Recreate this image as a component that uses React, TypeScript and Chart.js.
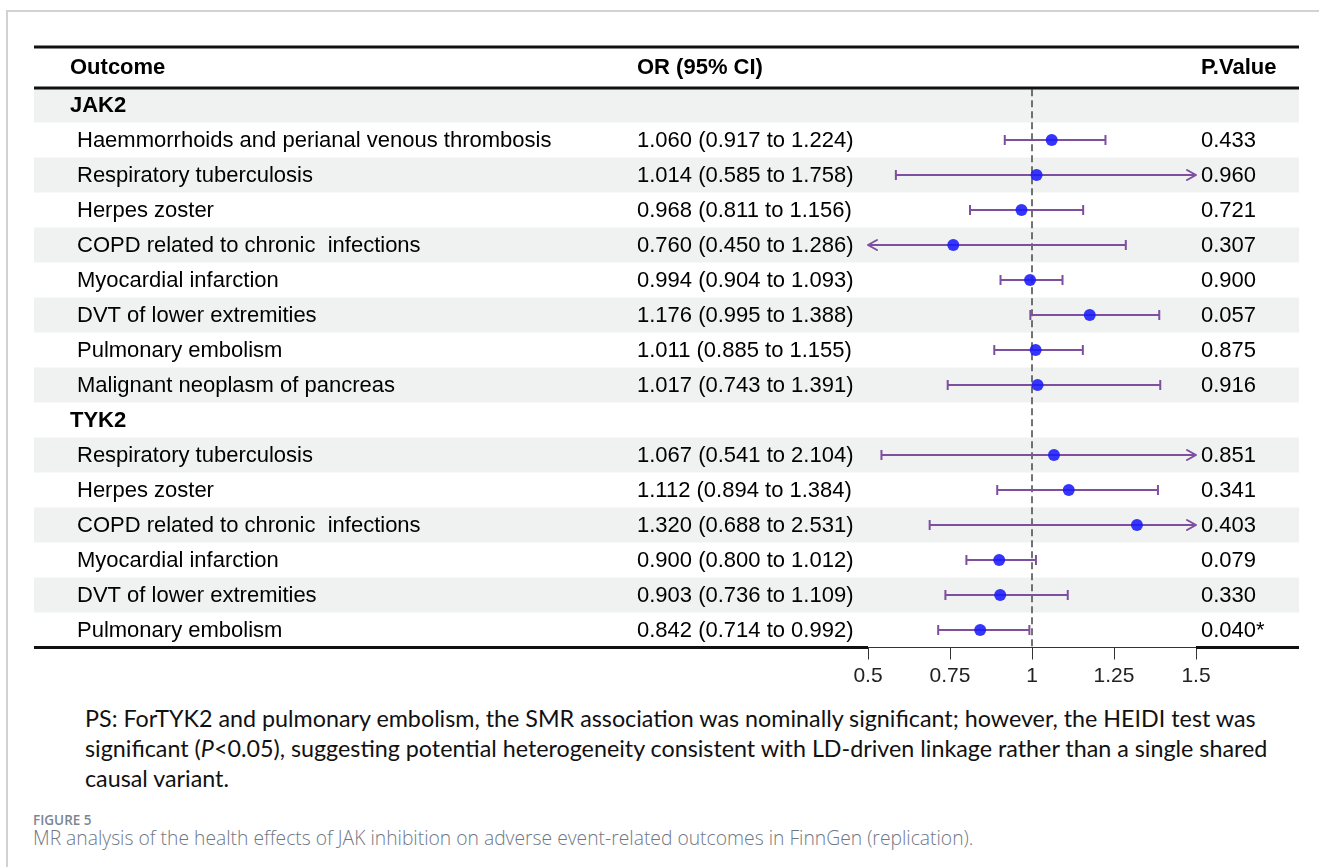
import React, { useEffect, useRef } from "react";
import { Chart, registerables } from "chart.js";

Chart.register(...registerables);

// ---------- data ----------
const headers = ["Outcome", "OR (95% CI)", "P.Value"];
const rowLabels = [
  "JAK2",
  "Haemmorrhoids and perianal venous thrombosis",
  "Respiratory tuberculosis",
  "Herpes zoster",
  "COPD related to chronic  infections",
  "Myocardial infarction",
  "DVT of lower extremities",
  "Pulmonary embolism",
  "Malignant neoplasm of pancreas",
  "TYK2",
  "Respiratory tuberculosis",
  "Herpes zoster",
  "COPD related to chronic  infections",
  "Myocardial infarction",
  "DVT of lower extremities",
  "Pulmonary embolism",
];
const groupRows = ["JAK2", "TYK2"];
const orValues = [null, 1.06, 1.014, 0.968, 0.76, 0.994, 1.176, 1.011, 1.017, null, 1.067, 1.112, 1.32, 0.9, 0.903, 0.842];
const ciLower = [null, 0.917, 0.585, 0.811, 0.45, 0.904, 0.995, 0.885, 0.743, null, 0.541, 0.894, 0.688, 0.8, 0.736, 0.714];
const ciUpper = [null, 1.224, 1.758, 1.156, 1.286, 1.093, 1.388, 1.155, 1.391, null, 2.104, 1.384, 2.531, 1.012, 1.109, 0.992];
const pValues = ["", "0.433", "0.960", "0.721", "0.307", "0.900", "0.057", "0.875", "0.916", "", "0.851", "0.341", "0.403", "0.079", "0.330", "0.040*"];
const xTicks = [0.5, 0.75, 1, 1.25, 1.5];
const xTickLabels = ["0.5", "0.75", "1", "1.25", "1.5"];
const nullLine = 1;
const axisMin = 0.5;
const axisMax = 1.5;

// ---------- style ----------
const FONT = '"Liberation Sans", Arial, sans-serif';
const PURPLE = "#7f4f9f";
const BLUE = "rgba(25,25,250,0.88)";
const BAND = "#f0f1f1";
const TABLE_L = 34;
const TABLE_R = 1299;
const COL_OUT = 70;
const COL_OUT_INDENT = 77;
const COL_OR = 637;
const COL_P = 1201;
const W = 1319;
const H = 700;

const fmt = (v: number) => v.toFixed(3);

const tablePlugin = {
  id: "forestTable",
  beforeDraw(chart: any) {
    const { ctx, scales } = chart;
    const y = scales.y;
    ctx.save();
    ctx.fillStyle = BAND;
    rowLabels.forEach((_, i) => {
      if (i % 2 === 0) {
        const t = y.getPixelForValue(i - 0.5);
        const b = y.getPixelForValue(i + 0.5);
        ctx.fillRect(TABLE_L, t, TABLE_R - TABLE_L, b - t);
      }
    });
    ctx.restore();
  },
  afterDatasetsDraw(chart: any) {
    const { ctx, scales } = chart;
    const x = scales.x;
    const y = scales.y;
    ctx.save();
    ctx.strokeStyle = PURPLE;
    ctx.lineWidth = 2;
    ctx.lineCap = "round";
    ctx.lineJoin = "round";
    rowLabels.forEach((_, i) => {
      const lo = ciLower[i];
      const hi = ciUpper[i];
      if (lo === null || hi === null) return;
      const yp = y.getPixelForValue(i);
      if (hi > axisMax) {
        const xp = x.getPixelForValue(axisMax);
        ctx.beginPath();
        ctx.moveTo(xp - 9, yp - 5);
        ctx.lineTo(xp, yp);
        ctx.lineTo(xp - 9, yp + 5);
        ctx.stroke();
      }
      if (lo < axisMin) {
        const xp = x.getPixelForValue(axisMin);
        ctx.beginPath();
        ctx.moveTo(xp + 9, yp - 5);
        ctx.lineTo(xp, yp);
        ctx.lineTo(xp + 9, yp + 5);
        ctx.stroke();
      }
    });
    ctx.restore();
  },
  afterDraw(chart: any) {
    const { ctx, scales, chartArea } = chart;
    const y = scales.y;
    ctx.save();
    ctx.textBaseline = "middle";
    ctx.fillStyle = "#000";
    // header
    ctx.font = `bold 22px ${FONT}`;
    const headY = 68;
    ctx.fillText(headers[0], COL_OUT, headY);
    ctx.fillText(headers[1], COL_OR, headY);
    ctx.fillText(headers[2], COL_P, headY);
    // rows
    rowLabels.forEach((label, i) => {
      const yp = y.getPixelForValue(i) + 1;
      if (groupRows.includes(label) && orValues[i] === null) {
        ctx.font = `bold 22px ${FONT}`;
        ctx.fillText(label, COL_OUT, yp);
        return;
      }
      ctx.font = `22px ${FONT}`;
      ctx.fillText(label, COL_OUT_INDENT, yp);
      const o = orValues[i] as number;
      const lo = ciLower[i] as number;
      const hi = ciUpper[i] as number;
      ctx.fillText(`${fmt(o)} (${fmt(lo)} to ${fmt(hi)})`, COL_OR, yp);
      ctx.fillText(pValues[i], COL_P, yp);
    });
    // rules
    ctx.strokeStyle = "#111";
    ctx.lineWidth = 3;
    ctx.beginPath();
    ctx.moveTo(TABLE_L, 47);
    ctx.lineTo(TABLE_R, 47);
    ctx.moveTo(TABLE_L, 88);
    ctx.lineTo(TABLE_R, 88);
    const yb = chartArea.bottom;
    ctx.moveTo(TABLE_L, yb);
    ctx.lineTo(chartArea.left, yb);
    ctx.moveTo(chartArea.right, yb);
    ctx.lineTo(TABLE_R, yb);
    ctx.stroke();
    ctx.restore();
  },
};

export default function App() {
  const canvasRef = useRef<HTMLCanvasElement | null>(null);

  useEffect(() => {
    if (!canvasRef.current) return;
    const pointData: any[] = [];
    const capData: any[] = [];
    const ciData: any[] = [];
    rowLabels.forEach((_, i) => {
      const o = orValues[i];
      const lo = ciLower[i];
      const hi = ciUpper[i];
      if (o === null || lo === null || hi === null) return;
      pointData.push({ x: o, y: i });
      if (lo >= axisMin) capData.push({ x: lo, y: i });
      if (hi <= axisMax) capData.push({ x: hi, y: i });
      ciData.push({ x: Math.max(lo, axisMin), y: i });
      ciData.push({ x: Math.min(hi, axisMax), y: i });
      ciData.push({ x: null, y: null });
    });

    const chart = new Chart(canvasRef.current, {
      type: "scatter",
      data: {
        datasets: [
          {
            label: "OR",
            data: pointData,
            pointRadius: 6,
            pointHoverRadius: 6,
            backgroundColor: BLUE,
            borderWidth: 0,
          },
          {
            label: "caps",
            data: capData,
            pointStyle: "line",
            rotation: 90,
            pointRadius: 5,
            pointHoverRadius: 5,
            borderColor: PURPLE,
            borderWidth: 2,
          },
          {
            label: "CI",
            type: "line",
            data: ciData,
            showLine: true,
            spanGaps: false,
            pointRadius: 0,
            borderColor: PURPLE,
            borderWidth: 2,
          } as any,
          {
            label: "null",
            type: "line",
            data: [
              { x: nullLine, y: -0.45 },
              { x: nullLine, y: 15.5 },
            ],
            showLine: true,
            pointRadius: 0,
            borderColor: "#444",
            borderWidth: 1.5,
            borderDash: [7, 4],
          } as any,
        ],
      },
      options: {
        responsive: false,
        maintainAspectRatio: false,
        animation: false,
        events: [],
        layout: { padding: { left: 868, right: W - 1196, top: 87.5, bottom: 12.5 } },
        plugins: { legend: { display: false }, tooltip: { enabled: false } },
        scales: {
          x: {
            type: "linear",
            min: axisMin,
            max: axisMax,
            position: "bottom",
            afterBuildTicks: (s: any) => {
              s.ticks = xTicks.map((v) => ({ value: v }));
            },
            afterFit: (s: any) => {
              s.height = 40;
            },
            grid: { display: true, drawOnChartArea: false, drawTicks: true, tickLength: 12, color: "#333", lineWidth: 1 },
            border: { display: true, color: "#333", width: 1 },
            ticks: {
              callback: (_v: any, i: number) => xTickLabels[i],
              font: { family: FONT, size: 21 },
              color: "#222",
              padding: 4,
              maxRotation: 0,
              autoSkip: false,
            },
          },
          y: { type: "linear", reverse: true, min: -0.5, max: 15.5, display: false },
        },
      },
      plugins: [tablePlugin],
    } as any);
    return () => chart.destroy();
  }, []);

  return (
    <div style={{ position: "absolute", left: 0, top: 0, width: W, height: 867, background: "#fff", overflow: "hidden" }}>
      <div
        style={{
          position: "absolute",
          left: 6,
          top: 10,
          width: 1340,
          height: 900,
          borderTop: "2px solid #d2d2d2",
          borderLeft: "2px solid #d2d2d2",
        }}
      />
      <canvas ref={canvasRef} width={W} height={H} style={{ position: "absolute", left: 0, top: 0, width: W, height: H }} />
      <div
        style={{
          position: "absolute",
          left: 85,
          top: 703,
          fontFamily: "Lato, sans-serif",
          fontSize: 23.3,
          lineHeight: "30px",
          color: "#111",
          whiteSpace: "nowrap",
        }}
      >
        <div>PS: ForTYK2 and pulmonary embolism, the SMR association was nominally significant; however, the HEIDI test was</div>
        <div>
          significant (<i>P</i>&lt;0.05), suggesting potential heterogeneity consistent with LD-driven linkage rather than a single shared
        </div>
        <div>causal variant.</div>
      </div>
      <div
        style={{
          position: "absolute",
          left: 33,
          top: 812,
          fontFamily: '"Open Sans", sans-serif',
          color: "#6f7886",
          whiteSpace: "nowrap",
        }}
      >
        <div style={{ fontSize: 13.5, fontWeight: 600, lineHeight: "16px", color: "#7b8694" }}>FIGURE 5</div>
        <div style={{ fontSize: 19.3, fontWeight: 300, lineHeight: "20px" }}>
          MR analysis of the health effects of JAK inhibition on adverse event-related outcomes in FinnGen (replication).
        </div>
      </div>
    </div>
  );
}
